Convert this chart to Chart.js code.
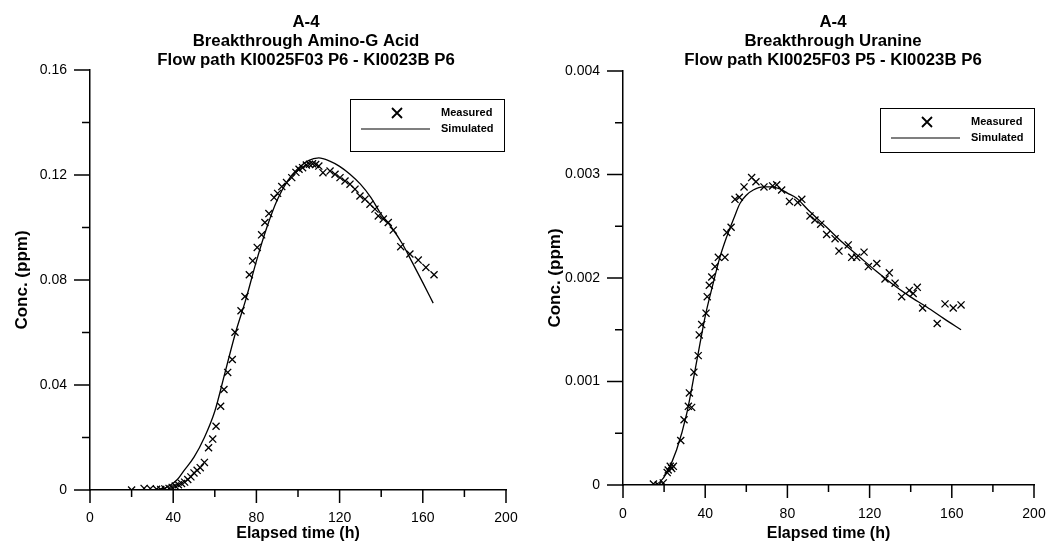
<html>
<head>
<meta charset="utf-8">
<title>A-4 breakthrough curves</title>
<script src="https://cdn.jsdelivr.net/npm/chart.js"></script>
<style>
  body { margin: 0; background: #fff; }
  #wrap { position: relative; width: 1050px; height: 549px; }
  canvas { position: absolute; top: 0; }
</style>
</head>
<body>
<div id="wrap">
  <canvas id="left" width="525" height="549" style="left:0"></canvas>
  <canvas id="right" width="525" height="549" style="left:525px"></canvas>
</div>
<script>
// shared x axis
var timeTicks = [0, 40, 80, 120, 160, 200]

// Amino-G Acid, KI0025F03 P6 - KI0023B P6
var aminoTitle = ['A-4', 'Breakthrough Amino-G Acid', 'Flow path KI0025F03 P6 - KI0023B P6']
var aminoConcTicks = [0, 0.04, 0.08, 0.12, 0.16]
var aminoMeasTime = [20, 26, 29, 32, 34, 36, 38, 39.5, 41, 42.5, 44, 45.5, 47, 48.5, 50, 51.5, 53, 55,
  57, 59, 60.6, 62.8, 64.4, 66.2, 68.4, 69.7, 72.6, 74.5, 76.6, 78.2, 80.4, 82.5, 84.1, 86, 88.5,
  90.2, 92.2, 94.5, 97, 99, 100.5, 102.2, 104, 105.5, 107, 108.5, 110, 112, 115.4, 117.8, 120.2,
  122.6, 125, 127.4, 129.8, 132.2, 134.6, 137, 138.6, 141, 143.4, 145.8, 149.4, 153.8, 157.8, 161.5, 165.4]
var aminoMeasConc = [0, 0.0006, 0.0005, 0.0003, 0.0002, 0.0004, 0.0006, 0.001, 0.0015, 0.002, 0.0025,
  0.003, 0.004, 0.005, 0.0065, 0.0075, 0.0085, 0.0105, 0.0161, 0.0194, 0.0243, 0.0319, 0.0383, 0.0448,
  0.0497, 0.0601, 0.0683, 0.0737, 0.082, 0.0873, 0.0924, 0.0972, 0.1019, 0.1053, 0.1114, 0.113, 0.1156,
  0.1171, 0.119, 0.121, 0.1222, 0.1228, 0.1238, 0.1241, 0.1243, 0.124, 0.1234, 0.1209, 0.1215, 0.1203,
  0.119, 0.1177, 0.1165, 0.1146, 0.112, 0.1108, 0.1089, 0.107, 0.1044, 0.1032, 0.1019, 0.099, 0.0927,
  0.0899, 0.0876, 0.0848, 0.082]
var aminoSimTime = [30, 35, 38, 42, 45, 50, 55, 60, 65, 70, 75, 80, 85, 90, 95, 100, 105, 110, 115,
  120, 125, 130, 135, 140, 145, 150, 155, 160, 165]
var aminoSimConc = [0, 0.0005, 0.0015, 0.004, 0.0072, 0.0125, 0.02, 0.03, 0.045, 0.06, 0.0728, 0.0872,
  0.1, 0.1105, 0.1178, 0.1225, 0.1255, 0.1265, 0.1254, 0.1233, 0.1203, 0.1165, 0.1115, 0.105, 0.1,
  0.094, 0.0866, 0.079, 0.0712]

// Uranine, KI0025F03 P5 - KI0023B P6
var uranTitle = ['A-4', 'Breakthrough Uranine', 'Flow path KI0025F03 P5 - KI0023B P6']
var uranConcTicks = [0, 0.001, 0.002, 0.003, 0.004]
var uranMeasTime = [14.8, 17.2, 19.6, 21.5, 22, 23, 23.7, 24.5, 28.1, 29.7, 31.8, 32.3, 33.4, 34.5,
  36.6, 37.1, 38.3, 40.4, 41, 42, 43.2, 44.8, 46.4, 49.6, 50.5, 52.6, 54.5, 56.6, 58.9, 62.6, 64.7,
  68.6, 72.8, 74.8, 77.2, 81, 85, 87, 91, 93.4, 96.2, 99.1, 103.2, 105.1, 109.6, 111.3, 113.7, 117.3,
  119.4, 123.5, 127.5, 129.6, 132.4, 135.6, 139.3, 141.2, 143.2, 145.8, 152.9, 156.7, 160.7, 164.5]
var uranMeasConc = [0.00001, 0, 0.00002, 0.00012, 0.000145, 0.00018, 0.00016, 0.00018, 0.00043,
  0.00063, 0.00076, 0.00089, 0.00075, 0.00109, 0.00125, 0.00145, 0.00155, 0.00166, 0.00182, 0.00193,
  0.00201, 0.00211, 0.0022, 0.0022, 0.00244, 0.00249, 0.00276, 0.00278, 0.00288, 0.00297, 0.00293,
  0.00288, 0.00289, 0.0029, 0.00285, 0.00274, 0.00273, 0.00276, 0.0026, 0.00256, 0.00252, 0.00242,
  0.00238, 0.00226, 0.00232, 0.0022, 0.0022, 0.00225, 0.00211, 0.00214, 0.00199, 0.00205, 0.00195,
  0.00182, 0.00188, 0.00185, 0.00191, 0.00171, 0.00156, 0.00175, 0.00171, 0.00174]
var uranSimTime = [15, 18, 21.3, 26.1, 31, 35.9, 37.5, 40, 43.9, 47, 50.5, 54, 56.9, 60, 63.4, 68.3,
  72, 76.4, 80, 84.5, 90, 99.1, 107, 115.3, 123, 130.6, 139, 147.8, 156, 164.5]
var uranSimConc = [0, 0.00003, 0.00012, 0.00034, 0.00069, 0.0012, 0.00137, 0.00163, 0.00195, 0.00219,
  0.0024, 0.00258, 0.00272, 0.0028, 0.00285, 0.00288, 0.00288, 0.00286, 0.00282, 0.00277, 0.00266,
  0.00249, 0.00234, 0.0022, 0.00207, 0.00195, 0.00183, 0.00172, 0.00161, 0.0015]

var FONT = '"Liberation Sans", Arial, sans-serif'

function pairs(xs, ys) {
  return xs.map((x, i) => ({ x: x, y: ys[i] }))
}

// axis ticks (long major, short minor), titles and the boxed legend
var frame = {
  id: 'frame',
  afterDraw(chart, args, o) {
    var ctx = chart.ctx
    var xs = chart.scales.x, ys = chart.scales.y
    ctx.save()
    ctx.strokeStyle = '#000'
    ctx.fillStyle = '#000'
    ctx.lineWidth = 1.5
    ctx.beginPath()
    var xt = o.xTicks, yt = o.yTicks
    for (var i = 0; i < xt.length; i++) {
      var px = xs.getPixelForValue(xt[i])
      ctx.moveTo(px, xs.top); ctx.lineTo(px, xs.top + 13)
      if (i < xt.length - 1) {
        var pm = xs.getPixelForValue((xt[i] + xt[i + 1]) / 2)
        ctx.moveTo(pm, xs.top); ctx.lineTo(pm, xs.top + 7)
      }
    }
    for (var j = 0; j < yt.length; j++) {
      var py = ys.getPixelForValue(yt[j])
      ctx.moveTo(ys.right, py); ctx.lineTo(ys.right - 16, py)
      if (j < yt.length - 1) {
        var qm = ys.getPixelForValue((yt[j] + yt[j + 1]) / 2)
        ctx.moveTo(ys.right, qm); ctx.lineTo(ys.right - 8, qm)
      }
    }
    ctx.stroke()

    // title
    ctx.textAlign = 'center'
    ctx.textBaseline = 'middle'
    ctx.font = 'bold 16.8px ' + FONT
    o.title.forEach((t, k) => ctx.fillText(t, o.titleX, 22 + k * 19))

    // legend
    var b = o.legendBox
    ctx.lineWidth = 1
    ctx.strokeRect(b.x + 0.5, b.y + 0.5, b.w, b.h)
    var mx = b.x + 47, my = b.y + 14
    ctx.lineWidth = 1.8
    ctx.beginPath()
    ctx.moveTo(mx - 5, my - 5); ctx.lineTo(mx + 5, my + 5)
    ctx.moveTo(mx + 5, my - 5); ctx.lineTo(mx - 5, my + 5)
    ctx.stroke()
    ctx.lineWidth = 1.2
    ctx.beginPath()
    ctx.moveTo(b.x + 11, b.y + 30); ctx.lineTo(b.x + 80, b.y + 30)
    ctx.stroke()
    ctx.textAlign = 'left'
    ctx.font = 'bold 11px ' + FONT
    ctx.fillText('Measured', b.x + 91, b.y + 14)
    ctx.fillText('Simulated', b.x + 91, b.y + 30)
    ctx.restore()
  }
}

function makeChart(id, s) {
  return new Chart(document.getElementById(id), {
    type: 'scatter',
    data: {
      datasets: [
        {
          label: 'Measured',
          data: pairs(s.measT, s.measC),
          pointStyle: 'crossRot',
          pointRadius: 5,
          borderColor: '#000',
          borderWidth: 1.3
        },
        {
          label: 'Simulated',
          data: pairs(s.simT, s.simC),
          showLine: true,
          pointRadius: 0,
          borderColor: '#000',
          borderWidth: 1.3,
          cubicInterpolationMode: 'monotone'
        }
      ]
    },
    options: {
      responsive: false,
      animation: false,
      layout: { padding: s.pad },
      plugins: {
        legend: { display: false },
        tooltip: { enabled: false },
        frame: { xTicks: timeTicks, yTicks: s.yTicks, title: s.title, titleX: s.titleX, legendBox: s.legendBox }
      },
      scales: {
        x: {
          type: 'linear', min: 0, max: 200,
          afterBuildTicks: sc => { sc.ticks = timeTicks.map(v => ({ value: v })) },
          afterFit: sc => { sc.height = s.xHeight; sc.paddingLeft = 0; sc.paddingRight = 0 },
          grid: { display: false, drawTicks: false },
          border: { display: true, color: '#000', width: 1.5 },
          ticks: { color: '#000', padding: s.xTickPad, font: { family: FONT, size: 14 }, callback: v => String(v) },
          title: { display: true, text: 'Elapsed time (h)', color: '#000', padding: { top: 0, bottom: 6 },
            font: { family: FONT, size: 16, weight: 'bold' } }
        },
        y: {
          type: 'linear', min: 0, max: s.yTicks[s.yTicks.length - 1],
          afterBuildTicks: sc => { sc.ticks = s.yTicks.map(v => ({ value: v })) },
          afterFit: sc => { sc.width = s.yWidth; sc.paddingTop = 0; sc.paddingBottom = 0 },
          grid: { display: false, drawTicks: false },
          border: { display: true, color: '#000', width: 1.5 },
          ticks: { color: '#000', padding: 23, font: { family: FONT, size: 14 }, callback: v => String(v) },
          title: { display: true, text: 'Conc. (ppm)', color: '#000', padding: { top: s.yTitlePad, bottom: 0 },
            font: { family: FONT, size: 17, weight: 'bold' } }
        }
      }
    },
    plugins: [frame]
  })
}

makeChart('left', {
  measT: aminoMeasTime, measC: aminoMeasConc, simT: aminoSimTime, simC: aminoSimConc,
  yTicks: aminoConcTicks, title: aminoTitle, titleX: 306,
  pad: { left: 8, right: 19, top: 70, bottom: 0 },
  yWidth: 82, xHeight: 59, xTickPad: 20, yTitlePad: 4,
  legendBox: { x: 350, y: 99, w: 154, h: 52 }
})

makeChart('right', {
  measT: uranMeasTime, measC: uranMeasConc, simT: uranSimTime, simC: uranSimConc,
  yTicks: uranConcTicks, title: uranTitle, titleX: 308,
  pad: { left: 8, right: 16, top: 71, bottom: 0 },
  yWidth: 90, xHeight: 64, xTickPad: 21, yTitlePad: 12,
  legendBox: { x: 355, y: 108, w: 154, h: 44 }
})
</script>
</body>
</html>
